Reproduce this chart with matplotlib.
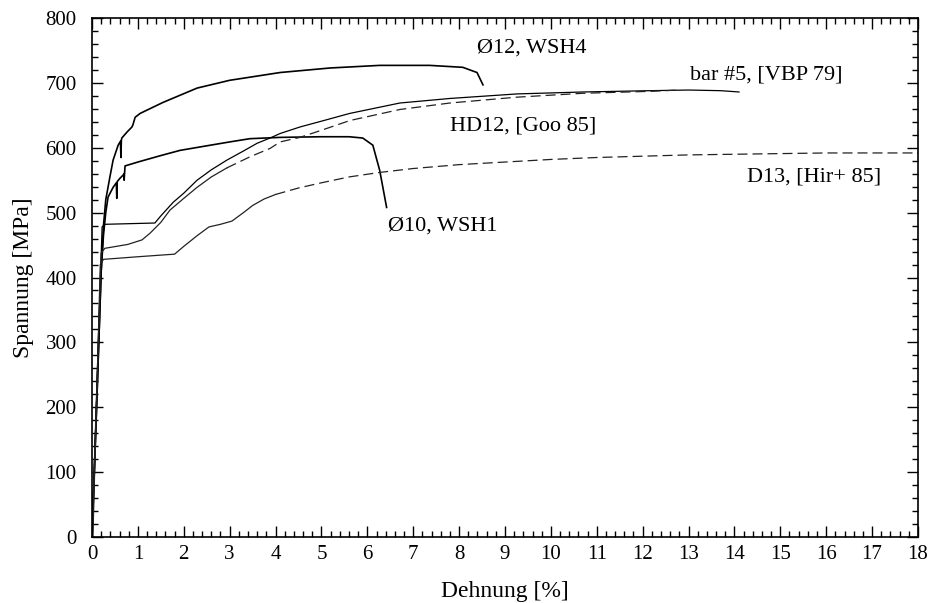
import matplotlib
matplotlib.use("Agg")
import matplotlib.pyplot as plt
from matplotlib.ticker import MultipleLocator

plt.rcParams['font.family'] = ['Liberation Serif', 'DejaVu Serif']

# Ø12, WSH4 (solid)
wsh4_x = [0.0, 0.1, 0.2, 0.25, 0.3, 0.39, 0.46, 0.57, 0.62, 0.63, 0.64, 0.65, 0.76, 0.87,
          0.89, 0.94, 1.05, 1.55, 2.29, 3.0, 4.1, 5.19, 6.27, 7.36, 8.08, 8.39, 8.52]
wsh4_y = [0, 200, 410, 480, 520, 555, 581, 604, 610, 585, 612, 615, 624, 632,
          635, 647, 653, 670, 692, 704, 716, 723, 727, 727, 724, 716, 697]

# Ø10, WSH1 (solid)
wsh1_x = [0.0, 0.1, 0.2, 0.25, 0.3, 0.35, 0.46, 0.53, 0.54, 0.55, 0.61, 0.68, 0.7, 0.7,
          0.72, 1.0, 1.5, 1.92, 2.5, 3.0, 3.44, 4.1, 5.0, 5.6, 5.9, 6.12, 6.27, 6.42]
wsh1_y = [0, 200, 410, 465, 500, 524, 539, 546, 522, 548, 553, 558, 560, 550,
          572, 578, 588, 596, 603, 609, 614, 616, 617, 617, 615, 604, 565, 508]

# bar #5, [VBP 79] (solid)
vbp_x = [0.0, 0.1, 0.22, 0.28, 1.37, 1.5, 1.77, 2.0, 2.29, 2.6, 2.94, 3.3, 3.6, 3.88,
         4.1, 4.53, 5.0, 5.62, 6.71, 7.8, 9.26, 10.7, 12.16, 13.0, 13.7, 14.1]
vbp_y = [0, 220, 478, 482, 484, 495, 516, 530, 550, 566, 581, 595, 607, 615,
         622, 632, 641, 653, 669, 676, 683, 686, 688, 689, 688, 686]

# HD12, [Goo 85]: solid part, then dashed
goo_x1 = [0.02, 0.1, 0.2, 0.28, 0.78, 1.09, 1.26, 1.5, 1.7, 2.0, 2.29, 2.6, 2.94]
goo_y1 = [0, 215, 438, 445, 451, 458, 468, 485, 504, 522, 539, 555, 569]
goo_x2 = [2.94, 3.44, 3.88, 4.1, 4.53, 5.0, 5.62, 6.71, 7.8, 9.26, 10.7, 12.16, 12.8]
goo_y2 = [569, 586, 599, 609, 616, 627, 642, 659, 669, 678, 684, 687, 689]

# D13, [Hir+ 85]: solid part, then dashed
hir_x1 = [0.0, 0.1, 0.18, 0.25, 1.0, 1.8, 2.0, 2.3, 2.55, 2.8, 3.05, 3.3, 3.5, 3.75, 4.0]
hir_y1 = [0, 210, 420, 428, 432, 436, 448, 465, 478, 482, 487, 500, 511, 521, 528]
hir_x2 = [4.0, 4.5, 5.0, 5.6, 6.27, 7.0, 8.0, 9.0, 10.0, 11.0, 12.0, 13.0, 14.0, 15.0,
          16.0, 17.0, 18.0]
hir_y2 = [528, 538, 546, 555, 562, 568, 574, 578, 582, 585, 587, 589, 590, 591,
          592, 592, 592]

fig = plt.figure(figsize=(9.35, 6.03), dpi=100)
ax = fig.add_axes([0.0984, 0.1095, 0.8834, 0.8606])

ax.plot(wsh4_x, wsh4_y, color='black', lw=1.2)
ax.plot(wsh1_x, wsh1_y, color='black', lw=1.2)
ax.plot(vbp_x, vbp_y, color='black', lw=0.9)
ax.plot(goo_x1, goo_y1, color='#222222', lw=0.9)
ax.plot(goo_x2, goo_y2, color='#222222', lw=0.9, dashes=(8, 4))
ax.plot(hir_x1, hir_y1, color='#222222', lw=0.9)
ax.plot(hir_x2, hir_y2, color='#222222', lw=0.9, dashes=(8, 4))

# Beschriftungen
fs = 16
ax.text(8.39, 753, "Ø12, WSH4", fontsize=fs, va='center')
ax.text(13.03, 712, "bar #5, [VBP 79]", fontsize=fs, va='center')
ax.text(7.8, 633, "HD12, [Goo 85]", fontsize=fs, va='center')
ax.text(14.27, 555, "D13, [Hir+ 85]", fontsize=fs, va='center')
ax.text(6.45, 479, "Ø10, WSH1", fontsize=fs, va='center')

ax.set_xlim(0, 18)
ax.set_ylim(0, 800)
ax.xaxis.set_major_locator(MultipleLocator(1))
ax.xaxis.set_minor_locator(MultipleLocator(0.2))
ax.yaxis.set_major_locator(MultipleLocator(100))
ax.yaxis.set_minor_locator(MultipleLocator(20))
ax.tick_params(which='both', direction='in', top=True, right=True, labelsize=15, width=1)
ax.tick_params(which='major', length=8)
ax.tick_params(which='minor', length=4)
ax.tick_params(axis='x', pad=6)
ax.tick_params(axis='y', pad=11)
for s in ax.spines.values():
    s.set_linewidth(1.2)

ax.set_xlabel("Dehnung [%]", fontsize=17, labelpad=12)
ax.set_ylabel("Spannung [MPa]", fontsize=17, labelpad=8)

fig.savefig("out.png", dpi=100)
